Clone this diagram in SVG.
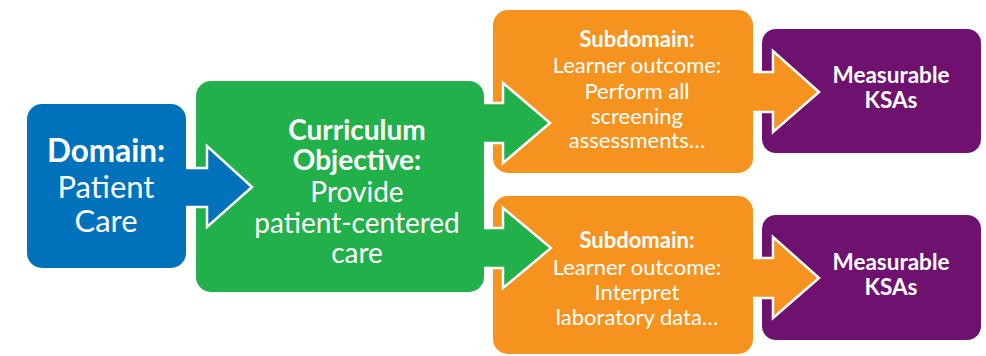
<svg xmlns="http://www.w3.org/2000/svg" width="986" height="356" viewBox="0 0 986 356">
<style>
text{font-family:Lato,"Open Sans","Liberation Sans",sans-serif;fill:#fff;text-anchor:middle}
.b{font-weight:bold}
.blue{fill:#0071bb}
.green{fill:#22b04b}
.orange{fill:#f6931e}
.purple{fill:#6f126f}
.arr{stroke:#fff;stroke-width:2.5;stroke-linejoin:miter}
</style>
<rect width="986" height="356" fill="#fff"/>
<g id="domain">
<rect class="blue" x="27" y="104" width="159" height="164" rx="15"/>
<text x="106" y="162" font-size="31.5" class="b">Domain:</text>
<text x="106" y="198" font-size="31">Patient</text>
<text x="106" y="232" font-size="31">Care</text>
</g>
<g id="objective">
<rect class="green" x="196" y="81" width="288" height="211" rx="15"/>
<text x="357" y="140" font-size="28" class="b">Curriculum</text>
<text x="357" y="170" font-size="28" class="b">Objective:</text>
<text x="357" y="202" font-size="28">Provide</text>
<text x="357" y="233" font-size="28">patient-centered</text>
<text x="357" y="263" font-size="28">care</text>
</g>
<g id="subdomain1">
<rect class="orange" x="493" y="10" width="260" height="163" rx="15"/>
<text x="637" y="47" font-size="22" class="b">Subdomain:</text>
<text x="637" y="73" font-size="22">Learner outcome:</text>
<text x="637" y="99" font-size="22">Perform all</text>
<text x="637" y="124" font-size="22">screening</text>
<text x="637" y="148" font-size="22">assessments…</text>
</g>
<g id="subdomain2">
<rect class="orange" x="493" y="196" width="260" height="158" rx="15"/>
<text x="637" y="248" font-size="22" class="b">Subdomain:</text>
<text x="637" y="275" font-size="22">Learner outcome:</text>
<text x="637" y="300" font-size="22">Interpret</text>
<text x="637" y="325" font-size="22">laboratory data…</text>
</g>
<g id="ksa1">
<rect class="purple" x="762" y="29" width="219" height="124" rx="14"/>
<text x="891" y="83" font-size="22.5" class="b">Measurable</text>
<text x="891" y="108" font-size="22.5" class="b">KSAs</text>
</g>
<g id="ksa2">
<rect class="purple" x="762" y="215" width="219" height="125" rx="14"/>
<text x="891" y="270" font-size="22.5" class="b">Measurable</text>
<text x="891" y="295" font-size="22.5" class="b">KSAs</text>
</g>
<g id="connectors">
<path class="blue arr" d="M186,168 H207 V146 L252,187 L207,227 V207 H186"/>
<path class="green arr" d="M484,103 H503 V83 L550,123 L503,163 V143 H484"/>
<path class="green arr" d="M484,228 H503 V208 L551,248 L503,288 V268 H484"/>
<path class="orange arr" d="M753,72 H773 V51 L819,92 L773,132 V112 H753"/>
<path class="orange arr" d="M753,258 H773 V237 L819,278 L773,318 V298 H753"/>
</g>
</svg>
